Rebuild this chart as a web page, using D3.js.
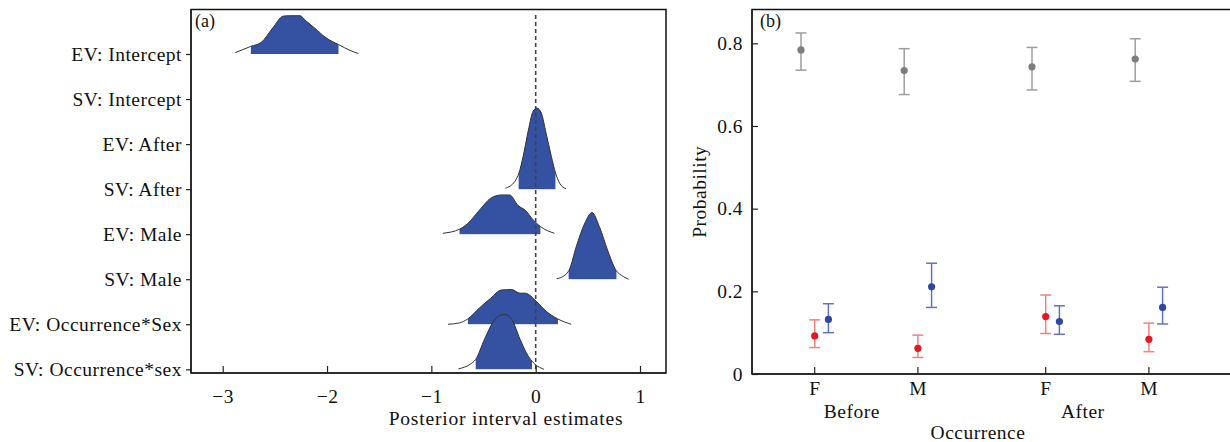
<!DOCTYPE html>
<html>
<head>
<meta charset="utf-8">
<script src="https://cdn.jsdelivr.net/npm/d3@7"></script>
<style>
  html, body { margin: 0; padding: 0; background: #fff; }
  svg { display: block; }
  text { font-family: "Liberation Serif", "Times New Roman", serif; fill: #111; }
</style>
</head>
<body>
<svg id="chart" width="1230" height="442"></svg>
<script>
// ---------------- Panel (a) data ----------------
const ridgeLabels = ["EV: Intercept", "SV: Intercept", "EV: After", "SV: After",
  "EV: Male", "SV: Male", "EV: Occurrence*Sex", "SV: Occurrence*sex"];
const axisATicks = [-3, -2, -1, 0, 1];

// density curves (x value, density in row heights)
const evInterceptX = [-2.88, -2.73, -2.63, -2.52, -2.42, -2.36, -2.26, -2.20, -2.12, -2.01, -1.89, -1.78, -1.70];
const evInterceptD = [0.03, 0.17, 0.26, 0.58, 0.84, 0.85, 0.85, 0.73, 0.58, 0.36, 0.21, 0.08, 0.01];
const svAfterX = [-0.29, -0.20, -0.16, -0.12, -0.07, -0.025, 0.013, 0.054, 0.10, 0.15, 0.19, 0.23, 0.29];
const svAfterD = [0.02, 0.17, 0.36, 0.73, 1.31, 1.73, 1.80, 1.69, 1.24, 0.73, 0.36, 0.13, 0.01];
const evMaleX = [-0.89, -0.73, -0.65, -0.54, -0.43, -0.33, -0.25, -0.17, -0.09, -0.04, 0.045, 0.18];
const evMaleD = [0.02, 0.11, 0.24, 0.53, 0.80, 0.87, 0.87, 0.64, 0.51, 0.36, 0.17, 0.02];
const svMaleX = [0.20, 0.28, 0.32, 0.39, 0.47, 0.54, 0.61, 0.69, 0.77, 0.84, 0.89];
const svMaleD = [0.01, 0.09, 0.20, 0.73, 1.24, 1.48, 1.17, 0.64, 0.20, 0.06, 0.0];
const evOccX = [-0.84, -0.73, -0.65, -0.54, -0.43, -0.33, -0.23, -0.15, -0.10, 0.006, 0.10, 0.21, 0.34];
const evOccD = [0.0, 0.03, 0.12, 0.36, 0.58, 0.76, 0.77, 0.69, 0.69, 0.51, 0.29, 0.12, 0.0];
const svOccX = [-0.74, -0.63, -0.575, -0.49, -0.39, -0.30, -0.23, -0.15, -0.09, -0.035, 0.08];
const svOccD = [0.01, 0.11, 0.22, 0.67, 1.11, 1.22, 1.11, 0.67, 0.37, 0.18, 0.0];

// shaded credible intervals
const ridgeNames = ["EV: Intercept", "SV: After", "EV: Male", "SV: Male", "EV: Occurrence*Sex", "SV: Occurrence*sex"];
const intervalLow = [-2.73, -0.163, -0.73, 0.316, -0.65, -0.575];
const intervalHigh = [-1.89, 0.189, 0.045, 0.774, 0.214, -0.035];

// ---------------- Panel (b) data ----------------
const periods = ["Before", "After"];
const sexes = ["F", "M"];
const seriesNames = ["grey", "red", "blue"];
const yBTicks = [0, 0.2, 0.4, 0.6, 0.8];
// order: Before-F, Before-M, After-F, After-M
const greyMean = [0.784, 0.734, 0.743, 0.762];
const greyLow = [0.735, 0.676, 0.687, 0.708];
const greyHigh = [0.825, 0.787, 0.790, 0.811];
const redMean = [0.092, 0.062, 0.139, 0.084];
const redLow = [0.064, 0.040, 0.098, 0.054];
const redHigh = [0.131, 0.094, 0.191, 0.123];
const blueMean = [0.132, 0.211, 0.127, 0.161];
const blueLow = [0.100, 0.161, 0.096, 0.121];
const blueHigh = [0.170, 0.268, 0.165, 0.210];

// ---------------- drawing ----------------
const svg = d3.select("#chart");
const FS = "19.5px";
const LS = "0.5px";

// ---- Panel (a) ----
const A = { left: 191, right: 666, top: 9.5, bottom: 373 };
const xA = d3.scaleLinear().domain([-3, 1]).range([222.7, 640]);
const yA = d3.scalePoint().domain(ridgeLabels).range([54, 369.3]);
const rowH = yA.step();
const hA = d3.scaleLinear().domain([0, 1]).range([0, rowH]);

const gA = svg.append("g");
gA.append("rect").attr("x", A.left).attr("y", A.top)
  .attr("width", A.right - A.left).attr("height", A.bottom - A.top)
  .attr("fill", "none").attr("stroke", "#111").attr("stroke-width", 1.5);

const ridgeX = [evInterceptX, svAfterX, evMaleX, svMaleX, evOccX, svOccX];
const ridgeD = [evInterceptD, svAfterD, evMaleD, svMaleD, evOccD, svOccD];
const ridges = ridgeNames.map((name, i) => ({
  name, lo: intervalLow[i], hi: intervalHigh[i],
  pts: ridgeX[i].map((x, j) => ({ x, d: ridgeD[i][j] }))
}));

const defs = svg.append("defs");
ridges.forEach((r, i) => {
  const base = yA(r.name);
  defs.append("clipPath").attr("id", "clip" + i).append("rect")
    .attr("x", xA(r.lo)).attr("y", base - 200)
    .attr("width", xA(r.hi) - xA(r.lo)).attr("height", 200.5);
  const area = d3.area().curve(d3.curveMonotoneX)
    .x(p => xA(p.x)).y0(base).y1(p => base - hA(p.d));
  const line = d3.line().curve(d3.curveMonotoneX)
    .x(p => xA(p.x)).y(p => base - hA(p.d));
  const g = gA.append("g");
  g.append("path").attr("d", area(r.pts)).attr("fill", "#3451a2")
    .attr("clip-path", `url(#clip${i})`);
  g.append("path").attr("d", line(r.pts)).attr("fill", "none")
    .attr("stroke", "#333").attr("stroke-width", 1);
});

// zero reference
gA.append("line").attr("x1", xA(0)).attr("x2", xA(0))
  .attr("y1", 15).attr("y2", A.bottom)
  .attr("stroke", "#3d4150").attr("stroke-width", 1.6).attr("stroke-dasharray", "4,3");

// axes (a)
const axA = gA.append("g").attr("transform", `translate(0,${A.bottom})`)
  .call(d3.axisBottom(xA).tickValues(axisATicks).tickSizeInner(-7).tickSizeOuter(0)
    .tickFormat(d => d < 0 ? "\u2212" + Math.abs(d) : String(d)).tickPadding(16));
axA.select(".domain").attr("d", `M${A.left},0H${A.right}`).attr("stroke", "#222").attr("stroke-width", 1.5);
axA.selectAll(".tick line").attr("stroke", "#222").attr("stroke-width", 1.2);
axA.selectAll(".tick text").style("font-size", FS).style("letter-spacing", LS)
  .attr("fill", "#111").attr("font-family", null);

const ayA = gA.append("g").attr("transform", `translate(${A.left},0)`)
  .call(d3.axisLeft(yA).tickSizeInner(5).tickSizeOuter(0).tickPadding(4));
ayA.select(".domain").attr("d", `M0,${A.top}V${A.bottom}`).attr("stroke", "#222").attr("stroke-width", 1.5);
ayA.selectAll(".tick line").attr("stroke", "#222").attr("stroke-width", 1.2);
ayA.selectAll(".tick text").style("font-size", FS).style("letter-spacing", LS)
  .attr("fill", "#111").attr("font-family", null);

gA.append("text").attr("x", 506).attr("y", 425)
  .attr("text-anchor", "middle").style("font-size", FS).style("letter-spacing", "0.8px")
  .text("Posterior interval estimates");
gA.append("text").attr("x", 195).attr("y", 27).style("font-size", "18px").text("(a)");

// ---- Panel (b) ----
const B = { left: 752, right: 1240, top: 9.5, bottom: 374 };
const yB = d3.scaleLinear().domain([0, 0.8]).range([B.bottom, 43.3]);
const outer = d3.scaleBand().domain(periods).range([750.8, 750.8 + 2 * 231]);
const inner = d3.scalePoint().domain(sexes).range([-51.6, 51.6]);
const offset = d3.scalePoint().domain(seriesNames).range([-13.7, 13.7]);

const gB = svg.append("g");
gB.append("rect").attr("x", B.left).attr("y", B.top)
  .attr("width", B.right - B.left).attr("height", B.bottom - B.top)
  .attr("fill", "none").attr("stroke", "#111").attr("stroke-width", 1.5);

const cells = [];
periods.forEach(p => sexes.forEach(s => cells.push({ p, s })));
const cellX = c => outer(c.p) + outer.bandwidth() / 2 + inner(c.s);

// x axis (b)
const ticksB = gB.append("g");
ticksB.append("line").attr("x1", B.left).attr("x2", B.right).attr("y1", B.bottom).attr("y2", B.bottom)
  .attr("stroke", "#222").attr("stroke-width", 1.5);
cells.forEach(c => {
  ticksB.append("line").attr("x1", cellX(c)).attr("x2", cellX(c))
    .attr("y1", B.bottom).attr("y2", B.bottom - 7).attr("stroke", "#222").attr("stroke-width", 1.2);
  ticksB.append("text").attr("x", cellX(c)).attr("y", 395).attr("text-anchor", "middle")
    .style("font-size", FS).text(c.s);
});
periods.forEach(p => {
  gB.append("text").attr("x", outer(p) + outer.bandwidth() / 2 - 14.5).attr("y", 418)
    .attr("text-anchor", "middle").style("font-size", FS).style("letter-spacing", LS).text(p);
});
gB.append("text").attr("x", 978).attr("y", 439).attr("text-anchor", "middle")
  .style("font-size", FS).style("letter-spacing", LS).text("Occurrence");

// y axis (b)
const ayB = gB.append("g").attr("transform", `translate(${B.left},0)`)
  .call(d3.axisLeft(yB).tickValues(yBTicks).tickSizeInner(-6).tickSizeOuter(0)
    .tickFormat(d => d === 0 ? "0" : d3.format(".1f")(d)).tickPadding(9));
ayB.select(".domain").attr("d", `M0,${B.top}V${B.bottom}`).attr("stroke", "#222").attr("stroke-width", 1.5);
ayB.selectAll(".tick line").attr("stroke", "#222").attr("stroke-width", 1.2);
ayB.selectAll(".tick text").style("font-size", FS).style("letter-spacing", LS)
  .attr("fill", "#111").attr("font-family", null);
gB.append("text").attr("transform", `translate(706,${(B.top + B.bottom) / 2}) rotate(-90)`)
  .attr("text-anchor", "middle").style("font-size", FS).style("letter-spacing", LS).text("Probability");
gB.append("text").attr("x", 760).attr("y", 27).style("font-size", "18px").text("(b)");

// error bars
const seriesMean = [greyMean, redMean, blueMean];
const seriesLow = [greyLow, redLow, blueLow];
const seriesHigh = [greyHigh, redHigh, blueHigh];
const barColor = ["#9e9e9e", "#f2837c", "#6272bd"];
const dotColor = ["#7d7d7d", "#e8161f", "#2f47a0"];
const capW = 5.5;
seriesNames.forEach((sname, si) => {
  const g = gB.append("g");
  cells.forEach((c, ci) => {
    const x = cellX(c) + offset(sname);
    const y0 = yB(seriesLow[si][ci]), y1 = yB(seriesHigh[si][ci]);
    g.append("line").attr("x1", x).attr("x2", x).attr("y1", y0).attr("y2", y1)
      .attr("stroke", barColor[si]).attr("stroke-width", 1.5);
    [y0, y1].forEach(yy => g.append("line").attr("x1", x - capW).attr("x2", x + capW)
      .attr("y1", yy).attr("y2", yy).attr("stroke", barColor[si]).attr("stroke-width", 1.5));
    g.append("circle").attr("cx", x).attr("cy", yB(seriesMean[si][ci])).attr("r", 3.6)
      .attr("fill", dotColor[si]);
  });
});
</script>
</body>
</html>
